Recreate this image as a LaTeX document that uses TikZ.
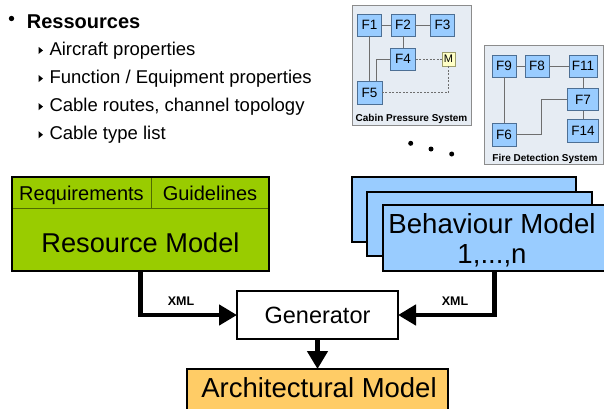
\documentclass[tikz,border=0pt]{standalone}
\usepackage{fontspec}
\setmainfont{Liberation Sans}
\usetikzlibrary{arrows.meta}

\definecolor{rmgreen}{HTML}{99CC00}
\definecolor{bmblue}{HTML}{99CCFF}
\definecolor{amorange}{HTML}{FFCC66}
\definecolor{panelbg}{HTML}{E6ECF3}
\definecolor{panelframe}{HTML}{8C8C8C}
\definecolor{fborder}{HTML}{4D6F94}
\definecolor{wirec}{HTML}{6E6E6E}
\definecolor{mfill}{HTML}{FFFFC6}
\definecolor{mborder}{HTML}{9C9C6A}
\definecolor{divider}{HTML}{4F6B00}

\begin{document}
\begin{tikzpicture}[x=1pt,y=-1pt,
  bigbox/.style={draw=black, line width=2pt, inner sep=0pt, outer sep=0pt},
  panel/.style={draw=panelframe, fill=panelbg, line width=1pt, inner sep=0pt},
  func/.style={draw=fborder, fill=bmblue, line width=0.8pt, minimum width=24pt,
    minimum height=22pt, inner sep=0pt, font=\fontsize{13.5}{14}\selectfont},
  wire/.style={draw=wirec, line width=0.8pt},
  dwire/.style={wire, dash pattern=on 2pt off 1.5pt},
  flow/.style={line width=4.5pt, -{Triangle[length=18pt,width=20pt]}},
  caption/.style={anchor=base, inner sep=0pt, font=\bfseries\fontsize{10}{11}\selectfont},
  bodytext/.style={anchor=base, inner sep=0pt},
  item/.style={anchor=base west, inner sep=0pt, font=\fontsize{18.5}{20}\selectfont},
  xmllabel/.style={inner sep=0pt, font=\bfseries\fontsize{12.5}{13}\selectfont}
]
\useasboundingbox (0,0) rectangle (604,408);

% ---- bullet list ----
\fill (11.5,18.5) circle (2.7pt);
\node[bodytext, anchor=base west, font=\bfseries\fontsize{20}{22}\selectfont] (res) at (26.7,28.3) {Ressources};
\node[item] (it1) at (49.3,55.6) {Aircraft properties};
\node[item] (it2) at (49.3,83.7) {Function / Equipment properties};
\node[item] (it3) at (49.3,111.8) {Cable routes, channel topology};
\node[item] (it4) at (49.3,139.9) {Cable type list};
\foreach \k in {0,1,2,3}{
  \fill[yshift=-28.1*\k pt] (38.5,46.8) -- ++(0,7.2) -- ++(4.5,-3.6) -- cycle;
}

% ---- cabin pressure system ----
\node[panel, minimum width=119pt, minimum height=120pt] (cabin) at (411.5,65) {};
\node[func] (F1) at (369.5,25) {F1};
\node[func] (F2) at (403,25) {F2};
\node[func] (F3) at (442.5,25) {F3};
\node[func, minimum width=25pt] (F4) at (403,59) {F4};
\node[draw=mborder, fill=mfill, line width=0.8pt, minimum width=13pt, minimum height=14pt,
  inner sep=0pt, font=\fontsize{11}{12}\selectfont] (M) at (448.5,59) {M};
\node[func, minimum width=25pt, minimum height=23pt] (F5) at (369.5,92.5) {F5};
\draw[wire] (F1) -- (F2);
\draw[wire] (F2) -- (F3);
\draw[wire] (F2) -- (F4);
\draw[wire] (F1) -- (F5);
\draw[wire] (F4.west) -| ([xshift=6.5pt]F5.north);
\draw[dwire] (F4.east) -- (M.west);
\draw[dwire] (M.south) |- (F5.east);
\node[caption] (cabincap) at (411.5,121) {Cabin Pressure System};

% ---- fire detection system ----
\node[panel, minimum width=119pt, minimum height=119pt] (fire) at (543.5,104.5) {};
\node[func] (F9) at (504,66) {F9};
\node[func] (F8) at (537,66) {F8};
\node[func, minimum width=28pt] (F11) at (583,66) {F11};
\node[func, minimum width=31pt] (F7) at (583,99.5) {F7};
\node[func, minimum width=31pt, minimum height=23pt] (F14) at (583,131) {F14};
\node[func, minimum height=23pt] (F6) at (504,134.7) {F6};
\draw[wire] (F9) -- (F8);
\draw[wire] (F8) -- (F11);
\draw[wire] (F9) -- (F6);
\draw[wire] (F11) -- (F7);
\draw[wire] (F7) -- (F14);
\coordinate (fbend) at (541,117);
\draw[wire] (F6.east) -| (fbend) |- (F7.west);
\node[caption] (firecap) at (545,161) {Fire Detection System};

% ---- ellipsis dots ----
\fill (410.7,143.3) circle (2.5pt);
\fill (431,149) circle (2.5pt);
\fill (451.7,154) circle (2.5pt);

% ---- resource model ----
\node[bigbox, fill=rmgreen, minimum width=257pt, minimum height=94pt] (rm) at (140.5,224) {};
\draw[divider, line width=1pt] (12,208) -- (269,208);
\draw[divider, line width=1pt] (151,177) -- (151,208);
\draw[draw=black, line width=2pt] (rm.north west) rectangle (rm.south east);
\node[bodytext, font=\fontsize{20}{22}\selectfont] (req) at (81.5,200) {Requirements};
\node[bodytext, font=\fontsize{20}{22}\selectfont] (guide) at (210,200) {Guidelines};
\node[bodytext, font=\fontsize{27.2}{30}\selectfont] (rmtitle) at (140.5,252) {Resource Model};

% ---- behaviour models (stack) ----
\node[bigbox, fill=bmblue, minimum width=224pt, minimum height=65pt] (bmback) at (464,209.5) {};
\node[bigbox, fill=bmblue, minimum width=225pt, minimum height=64pt] (bmmid) at (479.5,224) {};
\node[bigbox, fill=bmblue, minimum width=223pt, minimum height=66pt] (bm) at (494.5,238) {};
\node[bodytext, font=\fontsize{27.6}{30}\selectfont] (bmtitle) at (492,233) {Behaviour Model};
\node[bodytext, font=\fontsize{27.6}{30}\selectfont] (bmrange) at (492,263) {1,...,n};

% ---- generator and architectural model ----
\node[bigbox, fill=white, line width=1.7pt, minimum width=161pt, minimum height=48pt] (gen) at (317.5,315) {};
\node[bodytext, font=\fontsize{23.5}{26}\selectfont] (gentitle) at (317.5,323) {Generator};
\node[bigbox, fill=amorange, line width=1.7pt, minimum width=261pt, minimum height=53pt] (arch) at (317.5,395.5) {};
\node[bodytext, font=\fontsize{27.5}{30}\selectfont] (archtitle) at (319,397) {Architectural Model};

% ---- data flow ----
\draw[flow] (rm.south) |- (gen.west);
\draw[flow] (bm.south) |- (gen.east);
\draw[flow] (gen.south) -- (arch.north);
\node[xmllabel] (xmlleft) at (181,301) {XML};
\node[xmllabel] (xmlright) at (455,301) {XML};
\end{tikzpicture}
\end{document}
